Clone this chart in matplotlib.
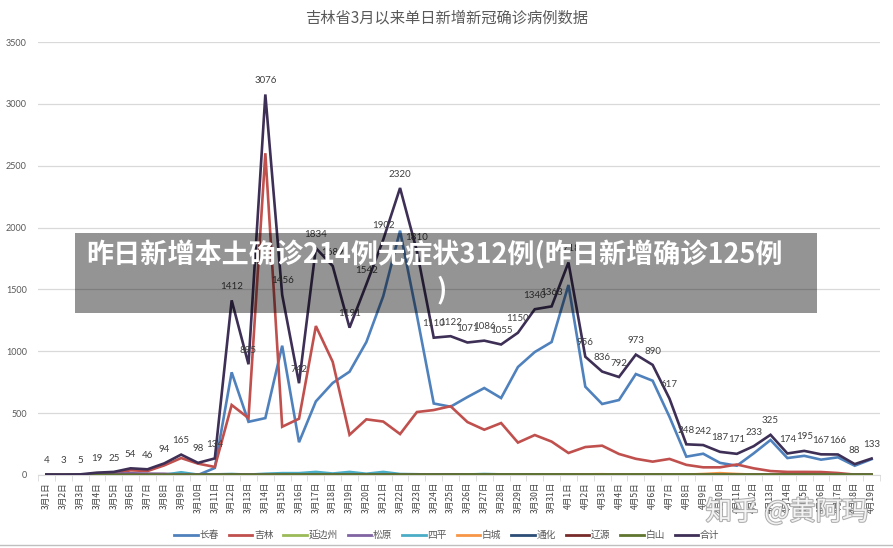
import numpy as np
import matplotlib.pyplot as plt
import matplotlib.patheffects as pe
from matplotlib.patches import Rectangle
from matplotlib.lines import Line2D

plt.rcParams['font.family'] = ['Noto Sans CJK SC', 'DejaVu Sans']

# 日期
dates = ["3月%d日" % d for d in range(1, 32)] + ["4月%d日" % d for d in range(1, 20)]

changchun = [0, 0, 0, 1, 1, 2, 3, 5, 3, 0,
             57, 830, 430, 460, 1045, 265, 595, 744, 835, 1075,
             1445, 1975, 1290, 578, 552, 630, 703, 622, 873, 994,
             1075, 1536, 714, 574, 606, 816, 762, 470, 148, 172,
             98, 75, 175, 283, 137, 155, 124, 143, 75, 128]
jilin = [0, 0, 1, 10, 14, 38, 32, 78, 137, 92,
         65, 566, 460, 2601, 390, 455, 1204, 915, 325, 450,
         432, 331, 509, 525, 556, 428, 366, 420, 262, 323,
         270, 178, 226, 237, 170, 131, 108, 130, 82, 62,
         62, 85, 54, 32, 25, 25, 24, 16, 3, 2]
yanbian = [0, 0, 0, 0, 0, 0, 0, 0, 1, 2,
           5, 4, 3, 3, 2, 2, 3, 2, 2, 3,
           2, 2, 2, 1, 2, 2, 3, 2, 2, 2,
           1, 1, 2, 3, 2, 2, 1, 1, 2, 1,
           1, 1, 1, 1, 1, 1, 1, 1, 1, 1]
songyuan = [4, 3, 4, 8, 10, 14, 11, 10, 3, 2,
            1, 1, 1, 1, 1, 1, 1, 0, 0, 0,
            0, 0, 0, 0, 0, 0, 0, 0, 0, 0,
            0, 0, 0, 0, 0, 0, 0, 0, 0, 0,
            0, 0, 0, 0, 0, 0, 0, 0, 0, 0]
siping = [0, 0, 0, 0, 0, 0, 0, 2, 22, 3,
          5, 8, 3, 10, 15, 15, 25, 12, 25, 10,
          25, 8, 6, 3, 3, 4, 8, 5, 3, 2,
          2, 1, 1, 1, 1, 1, 1, 1, 1, 1,
          1, 1, 1, 1, 1, 0, 0, 0, 0, 0]
baicheng = [0, 0, 0, 0, 0, 0, 0, 0, 0, 0,
            0, 0, 0, 0, 0, 0, 0, 0, 0, 0,
            0, 0, 0, 0, 0, 0, 0, 0, 0, 0,
            2, 3, 5, 6, 4, 2, 1, 1, 3, 8,
            15, 8, 3, 1, 0, 0, 0, 0, 0, 0]
tonghua = [0, 0, 0, 0, 0, 0, 0, 0, 0, 1,
           1, 2, 1, 1, 2, 2, 3, 2, 3, 2,
           3, 2, 2, 2, 3, 2, 2, 2, 3, 2,
           2, 2, 1, 1, 1, 1, 1, 1, 1, 1,
           1, 1, 1, 1, 1, 1, 1, 1, 1, 1]
liaoyuan = [0, 0, 0, 0, 0, 0, 0, 0, 0, 0,
            0, 0, 0, 0, 0, 0, 0, 0, 0, 0,
            0, 0, 0, 0, 0, 0, 0, 0, 0, 0,
            0, 0, 0, 0, 0, 0, 0, 0, 0, 0,
            0, 0, 0, 1, 2, 2, 1, 0, 0, 0]
baishan = [0, 0, 0, 0, 0, 0, 0, 0, 1, 1,
           2, 3, 2, 2, 3, 3, 4, 3, 3, 3,
           3, 3, 3, 3, 3, 4, 4, 4, 4, 4,
           4, 4, 4, 4, 4, 4, 4, 4, 4, 4,
           3, 3, 3, 3, 3, 3, 3, 3, 3, 3]
total = [4, 3, 5, 19, 25, 54, 46, 94, 165, 98,
         134, 1412, 895, 3076, 1456, 742, 1834, 1689, 1191, 1542,
         1902, 2320, 1810, 1110, 1122, 1071, 1086, 1055, 1150, 1340,
         1363, 1718, 956, 836, 792, 973, 890, 617, 248, 242,
         187, 171, 233, 325, 174, 195, 167, 166, 88, 133]

series = [
    ("长春", changchun, "#4F81BD"),
    ("吉林", jilin, "#C0504D"),
    ("延边州", yanbian, "#9BBB59"),
    ("松原", songyuan, "#8064A2"),
    ("四平", siping, "#4BACC6"),
    ("白城", baicheng, "#F79646"),
    ("通化", tonghua, "#2C4D75"),
    ("辽源", liaoyuan, "#772C2A"),
    ("白山", baishan, "#5F7530"),
    ("合计", total, "#3D2F55"),
]

fig = plt.figure(figsize=(8.93, 5.48), dpi=100)
ax = fig.add_axes([38 / 893, 1 - 475 / 548, (880 - 38) / 893, (475 - 42) / 548])

x = np.arange(len(dates))
for name, vals, col in series:
    ax.plot(x, vals, color=col, lw=1.9, label=name, zorder=3, solid_joinstyle='miter')

# 合计数据标签
for i, v in enumerate(total):
    ax.annotate(str(v), (i, v), xytext=(0, 10), textcoords='offset points',
                ha='center', va='center', fontsize=7, color='#404040',
                family='Lato', zorder=4)

ax.set_xlim(-0.5, len(dates) - 0.5)
ax.set_ylim(0, 3500)
ax.set_yticks(np.arange(0, 3501, 500))
ax.grid(axis='y', color='#d9d9d9', lw=0.9, zorder=0)
ax.set_axisbelow(True)
for s in ['top', 'right', 'left']:
    ax.spines[s].set_visible(False)
ax.spines['bottom'].set_color('#d9d9d9')
ax.tick_params(axis='y', length=0, pad=8, labelsize=6.5, labelcolor='#595959')
ax.set_xticks(x)
ax.set_xticklabels(dates, rotation=90, fontsize=6.2, color='#404040')
ax.tick_params(axis='x', length=0, pad=5)
ax.set_xticks(np.arange(-0.5, len(dates), 1), minor=True)
ax.tick_params(axis='x', which='minor', length=4, color='#d9d9d9')
for lab in ax.get_yticklabels():
    lab.set_family('Lato')

fig.text(0.5, 1 - 18 / 548, "吉林省3月以来单日新增新冠确诊病例数据", ha='center', va='center',
         fontsize=11, color='#595959')

handles = [Line2D([0], [0], color=c, lw=2) for _, _, c in series]
fig.legend(handles, [n for n, _, _ in series], loc='center', ncol=10,
           bbox_to_anchor=(447 / 893, 1 - 535 / 548), frameon=False, fontsize=7,
           handlelength=2.4, columnspacing=1.0, handletextpad=0.2, labelcolor='#595959')

# 底部边线
fig.add_artist(Line2D([0, 1], [1 - 545 / 548] * 2, color='#bfbfbf', lw=1))

# 灰色横幅
fig.add_artist(Rectangle((75 / 893, 1 - 313 / 548), (817 - 75) / 893, 80 / 548,
                         transform=fig.transFigure, facecolor='black', alpha=0.42,
                         edgecolor='none', zorder=10))
fig.text(434 / 893, 1 - 255 / 548, "昨日新增本土确诊214例无症状312例(昨日新增确诊125例",
         ha='center', va='center', fontsize=19.5, weight='bold', color='white', zorder=11)
fig.text(442 / 893, 1 - 290 / 548, ")", ha='center', va='center', fontsize=19.5,
         weight='bold', color='white', zorder=11)

# 水印
fig.text(787 / 893, 1 - 512 / 548, "知乎 @黄阿玛", ha='center', va='center', fontsize=19,
         color='white', alpha=0.85, zorder=12,
         path_effects=[pe.withStroke(linewidth=1.5, foreground='#a0a0a0')])

fig.savefig("out.png", dpi=100)
